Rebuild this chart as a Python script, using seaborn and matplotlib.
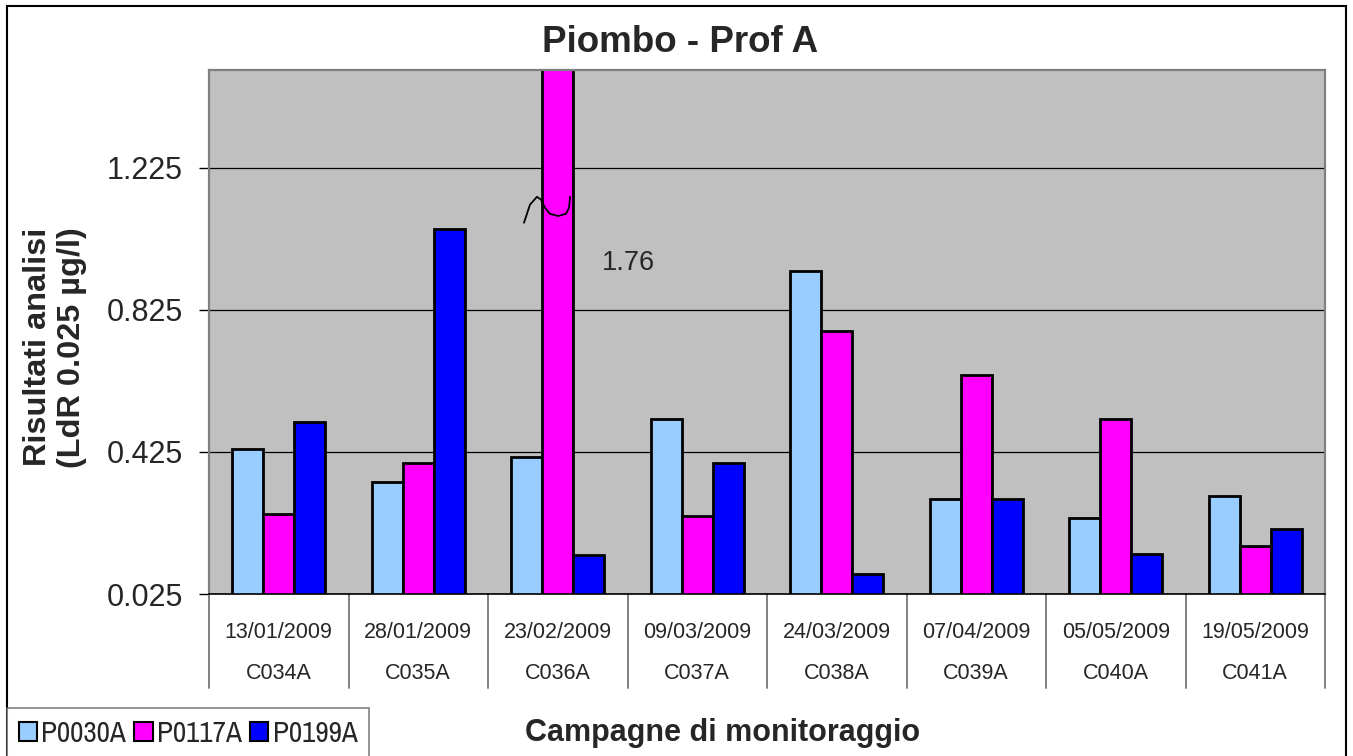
import matplotlib
matplotlib.use("Agg")
import matplotlib.pyplot as plt
from matplotlib.patches import Patch, Rectangle
from matplotlib import font_manager
import numpy as np
import pandas as pd
import seaborn as sns

# ── Data ─────────────────────────────────────────────────────────
dates = ["13/01/2009", "28/01/2009", "23/02/2009", "09/03/2009",
         "24/03/2009", "07/04/2009", "05/05/2009", "19/05/2009"]
codes = ["C034A", "C035A", "C036A", "C037A", "C038A", "C039A", "C040A", "C041A"]
series = ["P0030A", "P0117A", "P0199A"]
p0030a = [0.434, 0.340, 0.412, 0.519, 0.935, 0.293, 0.239, 0.300]
p0117a = [0.250, 0.393, 1.76, 0.244, 0.766, 0.641, 0.519, 0.161]
p0199a = [0.510, 1.052, 0.134, 0.393, 0.080, 0.293, 0.139, 0.207]
yticks = [0.025, 0.425, 0.825, 1.225]
ymax = 1.5

colors = ["#99CCFF", "#FF00FF", "#0000FF"]

df = pd.DataFrame({
    "campagna": codes * 3,
    "punto": np.repeat(series, len(codes)),
    "valore": p0030a + p0117a + p0199a,
})

# ── Style ────────────────────────────────────────────────────────
sns.set_style("white")
plt.rcParams["font.family"] = ["Liberation Sans", "DejaVu Sans"]

# legend uses a narrow face if one is installed, otherwise a smaller regular one
fonts = font_manager.fontManager.ttflist
narrow = [f.name for f in fonts if "Narrow" in f.name or "Condensed" in f.name]
if narrow:
    leg_prop = {"family": [narrow[0], "DejaVu Sans"], "size": 21}
else:
    leg_prop = {"family": ["Liberation Sans", "DejaVu Sans"], "size": 16.5}

W, H = 1353, 756
fig = plt.figure(figsize=(W / 100, H / 100), dpi=100)
ax = fig.add_axes([209 / W, 1 - 594 / H, (1325 - 209) / W, (594 - 70) / H])
ax.set_facecolor("#C0C0C0")

group_w = 0.667
sns.barplot(data=df, x="campagna", y="valore", hue="punto", order=codes,
            hue_order=series, palette=colors, width=group_w, errorbar=None,
            edgecolor="black", linewidth=2, saturation=1, ax=ax)
if ax.get_legend() is not None:
    ax.get_legend().remove()

ax.set_xlim(-0.5, len(codes) - 0.5)
ax.set_ylim(yticks[0], ymax)
ax.set_yticks(yticks)
ax.set_yticklabels([f"{t:.3f}" for t in yticks], fontsize=22)
ax.tick_params(axis="y", direction="out", length=7.2, width=1, color="black", pad=11.5, left=True)
ax.yaxis.grid(True, color="black", linewidth=0.9)
ax.set_axisbelow(True)

for side in ["left", "top", "right"]:
    ax.spines[side].set_color("#808080")
    ax.spines[side].set_linewidth(1.6)
ax.spines["bottom"].set_color("black")
ax.spines["bottom"].set_linewidth(1.2)

# category table under the plot
ax.set_xticks(range(len(codes)))
ax.set_xticklabels(dates, fontsize=15.5)
ax.tick_params(axis="x", length=0, pad=20)
ax.set_xlabel("")
trans = ax.get_xaxis_transform()
for i, c in enumerate(codes):
    ax.text(i, -0.1508, c, transform=trans, ha="center", va="center", fontsize=15.5)
for i in range(len(codes) + 1):
    ax.plot([i - 0.5, i - 0.5], [0, -0.1794], transform=trans, color="#808080",
            linewidth=1.4, clip_on=False)

# break mark on the out-of-scale bar
big = int(np.argmax(p0117a))
brk_dx = np.array([-0.242, -0.199, -0.149, -0.120, -0.091, -0.056, 0.002, 0.059, 0.081, 0.088])
brk_y = np.array([1.070, 1.121, 1.143, 1.135, 1.112, 1.095, 1.089, 1.095, 1.112, 1.143])
ax.plot(big + brk_dx, brk_y, color="black", linewidth=1.3, zorder=5)
ax.text(big + 0.317, 0.957, f"{p0117a[big]:.2f}", fontsize=19.5, ha="left", va="center")

# labels
ax.set_ylabel("Risultati analisi\n(LdR 0.025 µg/l)", fontsize=23.4, fontweight="bold",
              linespacing=1.2, ha="center", va="center")
ax.yaxis.set_label_coords(-0.138, 0.471)
fig.text(0.503, 1 - 42 / H, "Piombo - Prof A", fontsize=26.5, fontweight="bold",
         ha="center", va="center")
fig.text(723 / W, 1 - 733 / H, "Campagne di monitoraggio", fontsize=22, fontweight="bold",
         ha="center", va="center")

# legend
handles = [Patch(facecolor=c, edgecolor="black", linewidth=1.5) for c in colors]
leg = fig.legend(handles, series, loc="upper left", bbox_to_anchor=(7 / W, 1 - 708 / H),
                 ncol=3, prop=leg_prop, frameon=True, fancybox=False, borderpad=0.4,
                 handlelength=0.62, handleheight=0.62, handletextpad=0.14,
                 columnspacing=0.3, borderaxespad=0)
leg.get_frame().set_edgecolor("#606060")
leg.get_frame().set_linewidth(1.2)

# outer chart border
fig.patches.append(Rectangle((7 / W, -0.1), (1346 - 7) / W, 1 - 6 / H + 0.1,
                             transform=fig.transFigure, fill=False,
                             edgecolor="black", linewidth=1.5))

fig.savefig("out.png", dpi=100)
